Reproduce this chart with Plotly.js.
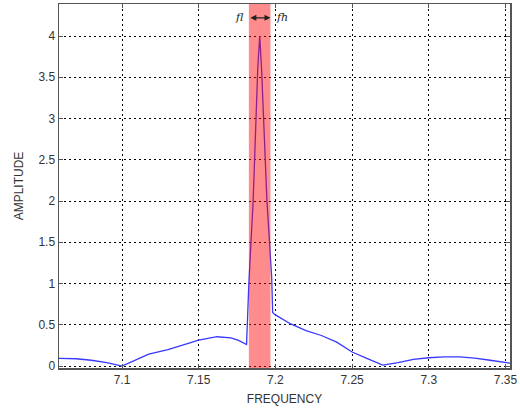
<!DOCTYPE html>
<html>
<head>
<meta charset="utf-8">
<script src="https://cdn.plot.ly/plotly-3.0.1.min.js"></script>
<style>html,body{margin:0;padding:0;background:#fff;}#chart{width:520px;height:410px;}</style>
</head>
<body>
<div id="chart"></div>
<script>
const frequency = [7.0589, 7.07, 7.08, 7.09, 7.1, 7.11, 7.1174, 7.13, 7.14, 7.15, 7.162, 7.171, 7.176, 7.1812, 7.1827, 7.1855, 7.1885, 7.1898, 7.191, 7.1945, 7.1976, 7.1982, 7.2, 7.21, 7.22, 7.23, 7.24, 7.25, 7.26, 7.27, 7.28, 7.29, 7.3, 7.31, 7.32, 7.33, 7.34, 7.35, 7.353];
const amplitude = [0.093, 0.088, 0.07, 0.04, 0.0, 0.08, 0.145, 0.2, 0.26, 0.315, 0.355, 0.34, 0.31, 0.26, 1.0, 2.0, 3.6, 4.0, 3.6, 2.0, 1.07, 0.65, 0.62, 0.51, 0.43, 0.37, 0.29, 0.17, 0.09, 0.01, 0.04, 0.08, 0.1, 0.11, 0.11, 0.095, 0.07, 0.045, 0.035];
const bandLow = 7.1827, bandHigh = 7.1968;
const xTicks = [7.1, 7.15, 7.2, 7.25, 7.3, 7.35];
const yTicks = [0, 0.5, 1, 1.5, 2, 2.5, 3, 3.5, 4];

const axisCommon = {
  showline: true, mirror: 'ticks', linecolor: '#555', linewidth: 1.5,
  ticks: 'inside', ticklen: 4, tickcolor: '#555',
  showgrid: true, gridcolor: '#000', gridwidth: 1, griddash: '2px,3px',
  zeroline: false, ticklabeloverflow: 'allow',
  tickfont: {family: 'Liberation Sans, Arial', size: 12, color: '#333'}
};

const trace = {
  x: frequency, y: amplitude, type: 'scatter', mode: 'lines',
  line: {color: '#3838ff', width: 1.3}, hoverinfo: 'skip'
};

const layout = {
  width: 520, height: 410,
  margin: {l: 59, r: 10, t: 4, b: 42},
  paper_bgcolor: '#fff', plot_bgcolor: '#fff',
  showlegend: false,
  xaxis: Object.assign({}, axisCommon, {
    range: [7.0589, 7.353], tickvals: xTicks, ticktext: xTicks.map(String),
    title: {text: 'FREQUENCY', font: {family: 'Liberation Sans, Arial', size: 12, color: '#333'}, standoff: 8}
  }),
  yaxis: Object.assign({}, axisCommon, {
    range: [-0.024, 4.388], tickvals: yTicks, ticktext: yTicks.map(String),
    title: {text: 'AMPLITUDE', font: {family: 'Liberation Sans, Arial', size: 12, color: '#333'}, standoff: 12}
  }),
  shapes: [{
    type: 'rect', xref: 'x', yref: 'paper', x0: bandLow, x1: bandHigh, y0: 0, y1: 1,
    fillcolor: 'rgba(255,0,0,0.45)', line: {width: 0}, layer: 'above'
  }],
  annotations: [
    {x: bandHigh, y: 4.22, ax: bandLow, ay: 4.22, xref: 'x', yref: 'y', axref: 'x', ayref: 'y',
     text: '', showarrow: true, arrowhead: 2, startarrowhead: 2, arrowside: 'end+start',
     arrowsize: 1, arrowwidth: 1.2, arrowcolor: '#222', standoff: 0, startstandoff: 0},
    {x: 7.1765, y: 4.22, xref: 'x', yref: 'y', text: '<i>fl</i>', showarrow: false,
     font: {family: 'DejaVu Serif, serif', size: 11, color: '#222'}},
    {x: 7.2045, y: 4.22, xref: 'x', yref: 'y', text: '<i>fh</i>', showarrow: false,
     font: {family: 'DejaVu Serif, serif', size: 11, color: '#222'}}
  ]
};

Plotly.newPlot('chart', [trace], layout, {displayModeBar: false, staticPlot: true});
</script>
</body>
</html>
